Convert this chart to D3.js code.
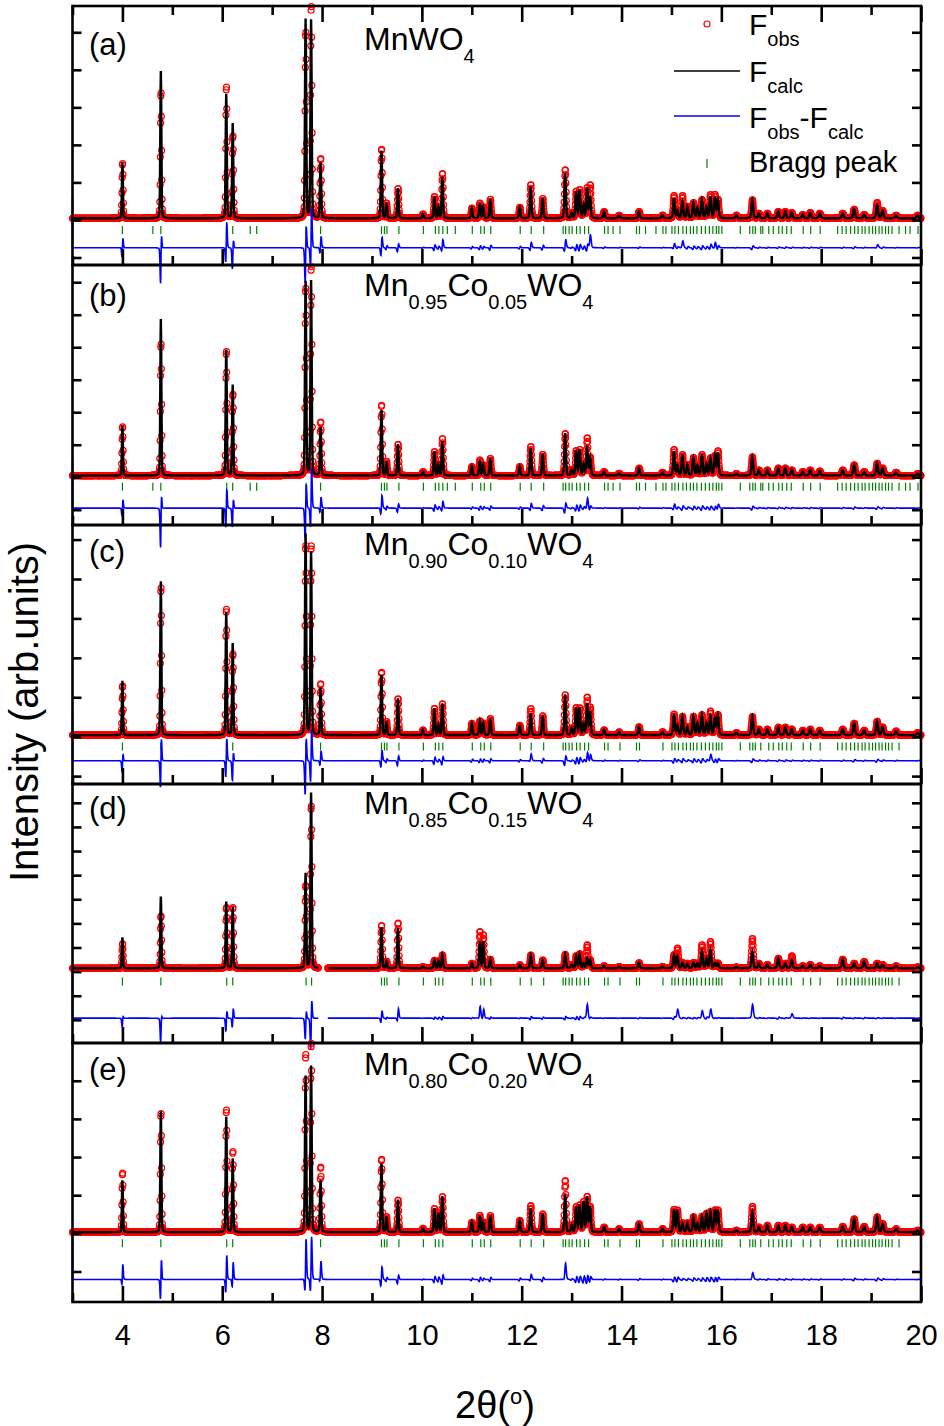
<!DOCTYPE html>
<html>
<head>
<meta charset="utf-8">
<script src="https://cdnjs.cloudflare.com/ajax/libs/d3/7.8.5/d3.min.js"></script>
<style>
  body { margin: 0; background: #fff; }
  svg { font-family: "Liberation Sans", Arial, sans-serif; }
</style>
</head>
<body>
<div class="chart"></div>
<script>
// reflection positions (2theta, deg) shared by all five refinements
var peakPos = [4.00, 4.77, 6.08, 6.21, 7.67, 7.78, 7.97, 9.19, 9.29, 9.52,
  10.02, 10.25, 10.33, 10.41, 11.00, 11.16, 11.23, 11.37, 11.96, 12.18,
  12.42, 12.87, 13.00, 13.09, 13.16, 13.24, 13.31, 13.37, 13.65, 13.95,
  14.35, 14.82, 15.05, 15.12, 15.22, 15.32, 15.44, 15.52, 15.61, 15.70,
  15.78, 15.87, 15.93, 16.30, 16.62, 16.75, 16.92, 17.14, 17.28, 17.41,
  17.63, 17.78, 17.97, 18.43, 18.66, 18.86, 19.12, 19.23, 19.50, 19.93];

// calculated peak heights above background, one per reflection
var calcA = [1.49, 3.92, 3.31, 2.53, 5.3, 5.28, 1.47, 1.8, 0.4, 0.8,
  0.11, 0.58, 0.3, 1.09, 0.27, 0.4, 0.3, 0.51, 0.29, 0.84,
  0.53, 1.2, 0.14, 0.71, 0.75, 0.35, 0.8, 0.56, 0.18, 0.08,
  0.18, 0.08, 0.53, 0.2, 0.44, 0.31, 0.41, 0.27, 0.49, 0.3,
  0.58, 0.51, 0.49, 0.08, 0.49, 0.13, 0.13, 0.18, 0.18, 0.15,
  0.1, 0.15, 0.13, 0.13, 0.24, 0.1, 0.36, 0.2, 0.08, 0.08];
var calcB = [1.53, 4.82, 3.87, 2.79, 5.97, 5.99, 1.49, 2.02, 0.43, 0.97,
  0.12, 0.74, 0.33, 1.05, 0.28, 0.48, 0.33, 0.53, 0.28, 0.84,
  0.66, 1.3, 0.17, 0.76, 0.79, 0.35, 0.9, 0.55, 0.12, 0.07,
  0.23, 0.1, 0.74, 0.3, 0.64, 0.33, 0.55, 0.3, 0.64, 0.35,
  0.53, 0.6, 0.69, 0.06, 0.58, 0.17, 0.17, 0.23, 0.23, 0.17,
  0.12, 0.17, 0.14, 0.17, 0.33, 0.12, 0.38, 0.23, 0.1, 0.06];
var calcC = [1.38, 3.9, 3.12, 2.33, 5.1, 4.64, 1.2, 1.53, 0.34, 0.93,
  0.13, 0.68, 0.25, 0.8, 0.3, 0.36, 0.3, 0.42, 0.25, 0.55,
  0.49, 1.03, 0.17, 0.69, 0.68, 0.27, 0.8, 0.59, 0.13, 0.08,
  0.21, 0.08, 0.53, 0.25, 0.47, 0.21, 0.47, 0.3, 0.51, 0.3,
  0.47, 0.42, 0.51, 0.06, 0.47, 0.15, 0.15, 0.2, 0.2, 0.15,
  0.12, 0.15, 0.12, 0.15, 0.3, 0.12, 0.35, 0.2, 0.1, 0.06];
var calcD = [1.28, 2.97, 2.76, 2.55, 3.93, 7.27, 0, 1.7, 0.28, 1.66,
  0.07, 0.33, 0.3, 0.55, 0.2, 1.1, 1.1, 0.37, 0.14, 0.55,
  0.34, 0.58, 0.14, 0.51, 0.59, 0.2, 0.41, 0.34, 0.1, 0.07,
  0.23, 0.07, 0.55, 0.48, 0.23, 0.2, 0.23, 0.2, 0.69, 0.4,
  0.76, 0.2, 0.2, 0.05, 0.69, 0.2, 0.15, 0.41, 0.2, 0.34,
  0.1, 0.15, 0.1, 0.37, 0.2, 0.28, 0.2, 0.15, 0.1, 0.05];
var calcE = [1.36, 3.17, 3.02, 1.93, 4.09, 4.35, 1.36, 1.8, 0.4, 0.85,
  0.1, 0.62, 0.5, 0.94, 0.26, 0.44, 0.26, 0.44, 0.31, 0.62,
  0.48, 0.99, 0.18, 0.66, 0.7, 0.79, 0.92, 0.66, 0.13, 0.09,
  0.22, 0.09, 0.59, 0.57, 0.24, 0.24, 0.4, 0.22, 0.41, 0.48,
  0.53, 0.57, 0.57, 0.05, 0.53, 0.13, 0.18, 0.18, 0.18, 0.13,
  0.13, 0.13, 0.13, 0.15, 0.35, 0.15, 0.4, 0.22, 0.09, 0.05];

// observed heights where they differ from the calculation: [2theta, height]
var obsA = [[4.77, 3.4], [6.08, 3.55], [6.21, 2.22], [7.67, 5.0], [7.78, 5.7], [7.97, 1.6],
  [9.19, 1.86], [10.41, 1.2], [12.18, 0.9], [12.87, 1.3], [13.37, 0.88], [15.05, 0.6],
  [15.22, 0.6], [15.78, 0.62], [15.87, 0.62], [19.12, 0.42]];
var obsB = [[4.77, 4.12], [6.21, 2.53], [7.67, 5.82], [7.78, 6.5], [7.97, 1.66], [9.19, 2.19],
  [10.41, 1.15], [12.18, 0.9], [13.31, 1.15], [15.05, 0.8], [15.93, 0.75]];
var obsC = [[4.0, 1.27], [4.77, 3.8], [6.08, 3.24], [6.21, 2.08], [7.67, 4.86], [7.78, 4.85],
  [7.97, 1.31], [9.19, 1.61], [12.18, 0.68], [13.31, 0.95], [13.37, 0.7], [15.78, 0.6]];
var obsD = [[4.0, 1.03], [4.77, 2.2], [6.08, 2.55], [7.67, 3.45], [7.78, 6.8], [9.19, 1.79],
  [9.52, 1.89], [11.16, 1.52], [11.23, 1.38], [13.31, 0.97], [15.12, 0.83], [15.61, 0.97],
  [15.78, 1.1], [16.62, 1.24], [17.41, 0.51]];
var obsE = [[4.0, 1.58], [6.08, 3.25], [6.21, 2.14], [7.67, 4.7], [7.78, 5.0], [7.97, 1.72],
  [9.19, 1.93], [12.18, 0.7], [12.87, 1.36], [16.62, 0.68]];

// Bragg reflection markers
var braggMain = [4.0, 4.77, 6.09, 6.21, 7.68, 7.79, 7.97, 9.19, 9.25, 9.30, 9.54, 10.03,
  10.27, 10.34, 10.42, 11.01, 11.18, 11.25, 11.38, 11.97, 12.19, 12.44, 12.83, 12.88,
  12.95, 13.01, 13.10, 13.17, 13.26, 13.34, 13.66, 13.73, 13.97, 14.30, 14.36, 14.83,
  15.01, 15.07, 15.14, 15.23, 15.30, 15.38, 15.44, 15.51, 15.60, 15.68, 15.76, 15.83,
  15.90, 15.95, 16.01, 16.38, 16.57, 16.63, 16.68, 16.79, 16.95, 17.04, 17.15, 17.22,
  17.31, 17.40, 17.64, 17.79, 17.98, 18.33, 18.42, 18.50, 18.59, 18.67, 18.74, 18.82,
  18.88, 18.96, 19.03, 19.09, 19.16, 19.22, 19.29, 19.35, 19.42, 19.56];
var braggExtra = [4.61, 6.56, 6.69, 10.51, 10.67, 13.83, 14.48, 14.69, 14.89, 16.83,
  19.69, 19.78, 19.94];

var panelLabels = ['(a)', '(b)', '(c)', '(d)', '(e)'];
var formulaA = [['MnWO', 0], ['4', 1]];
var formulaB = [['Mn', 0], ['0.95', 1], ['Co', 0], ['0.05', 1], ['WO', 0], ['4', 1]];
var formulaC = [['Mn', 0], ['0.90', 1], ['Co', 0], ['0.10', 1], ['WO', 0], ['4', 1]];
var formulaD = [['Mn', 0], ['0.85', 1], ['Co', 0], ['0.15', 1], ['WO', 0], ['4', 1]];
var formulaE = [['Mn', 0], ['0.80', 1], ['Co', 0], ['0.20', 1], ['WO', 0], ['4', 1]];

// y domains of each panel, background / marker / difference levels (same units)
var yDomains = [[-1.2, 5.7], [-1.47, 6.53], [-1.2, 5.37], [-2.96, 7.78], [-1.8, 4.99]];
var yTicks = [d3.range(-1, 6), d3.range(-1, 7), d3.range(-1, 6), d3.range(-2, 8), d3.range(-1, 5)];
var backLevel = [0.045, 0.05, 0.04, 0.14, 0.03];
var braggLevel = [-0.27, -0.29, -0.25, -0.41, -0.26];
var diffLevel = [-0.74, -0.95, -0.61, -1.93, -1.21];
var diffLead = [0.6, 0.58, 0.59, 0.0, 0.0];
var excluded = [null, null, null, [7.93, 8.11], null];

var xMajor = [4, 6, 8, 10, 12, 14, 16, 18, 20];
var xMinor = [3, 5, 7, 9, 11, 13, 15, 17, 19];

// layout
var W = 944, H = 1426;
var edges = [6, 265, 525, 784, 1043, 1302];
var labelDy = [49, 41, 37, 35, 37];
var formulaDy = [44, 31, 30, 30, 32];
var step = 0.005, shift = 0.003, eta = 0.22;

var svg = d3.select('.chart').append('svg').attr('width', W).attr('height', H);
var x = d3.scaleLinear().domain([3, 20]).range([72.5, 921]);

var profile = function(t, heights) {
  var s = 0;
  for (var i = 0; i < peakPos.length; i++) {
    var h = heights[i];
    if (!h) continue;
    var w = 0.019 + 0.0013 * peakPos[i];
    var d = (t - peakPos[i]) / w;
    if (Math.abs(d) > 40) continue;
    s += h * (eta / (1 + 4 * d * d) + (1 - eta) * Math.exp(-2.7726 * d * d));
  }
  return s;
};

var richText = function(g, parts, px, py, size, subSize, subDy) {
  var t = g.append('text').attr('x', px).attr('y', py).style('font-size', size + 'px');
  var down = false;
  parts.forEach(function(p) {
    var s = t.append('tspan').text(p[0]);
    if (p[1]) {
      s.style('font-size', subSize + 'px');
      if (!down) { s.attr('dy', subDy); down = true; }
    } else if (down) {
      s.attr('dy', -subDy); down = false;
    }
  });
  return t;
};

var panels = [
  {calc: calcA, obs: obsA, formula: formulaA, bragg: braggMain.concat(braggExtra)},
  {calc: calcB, obs: obsB, formula: formulaB, bragg: braggMain.concat(braggExtra)},
  {calc: calcC, obs: obsC, formula: formulaC, bragg: braggMain},
  {calc: calcD, obs: obsD, formula: formulaD, bragg: braggMain},
  {calc: calcE, obs: obsE, formula: formulaE, bragg: braggMain}
];

var grid = d3.range(3, 20 + step / 2, step);

panels.forEach(function(p, k) {
  var top = edges[k], bottom = edges[k + 1];
  var y = d3.scaleLinear().domain(yDomains[k]).range([bottom, top]);
  var g = svg.append('g').attr('class', 'panel');
  var ex = excluded[k];
  var inRange = function(t) { return !ex || t < ex[0] || t > ex[1]; };

  var obsH = p.calc.slice();
  p.obs.forEach(function(o) {
    var i = peakPos.findIndex(function(v) { return Math.abs(v - o[0]) < 0.001; });
    if (i >= 0) obsH[i] = o[1];
  });

  var rows = grid.map(function(t) {
    return {
      t: t,
      calc: backLevel[k] + profile(t, p.calc),
      obs: backLevel[k] + profile(t - shift, obsH)
    };
  });

  // observed points
  g.append('g').selectAll('circle')
    .data(rows.filter(function(r) { return inRange(r.t); }))
    .join('circle')
    .attr('cx', function(r) { return x(r.t); })
    .attr('cy', function(r) { return y(r.obs); })
    .attr('r', 3)
    .attr('fill', 'none')
    .attr('stroke', '#ff0000')
    .attr('stroke-width', 1.2);

  // calculated profile
  g.append('path')
    .datum(rows)
    .attr('fill', 'none')
    .attr('stroke', '#000')
    .attr('stroke-width', 2.4)
    .attr('d', d3.line().defined(function(r) { return inRange(r.t); })
      .x(function(r) { return x(r.t); })
      .y(function(r) { return y(r.calc); }));

  // Bragg markers
  g.append('g').selectAll('line')
    .data(p.bragg.filter(function(b) { return inRange(b) && (k < 2 || b < 19.6); }))
    .join('line')
    .attr('x1', function(b) { return x(b); })
    .attr('x2', function(b) { return x(b); })
    .attr('y1', y(braggLevel[k]) - 4)
    .attr('y2', y(braggLevel[k]) + 4)
    .attr('stroke', '#008000')
    .attr('stroke-width', 1.2);

  // difference curve
  var diffRows = [{t: 3, v: diffLead[k]}].concat(rows.map(function(r) {
    return {t: r.t, v: diffLevel[k] + r.obs - r.calc};
  }));
  g.append('path')
    .datum(diffRows)
    .attr('fill', 'none')
    .attr('stroke', '#0000ff')
    .attr('stroke-width', 1.6)
    .attr('d', d3.line().defined(function(r) { return inRange(r.t); })
      .x(function(r) { return x(r.t); })
      .y(function(r) { return y(r.v); }));

  // frame and ticks
  var tickStyle = function(sel) {
    sel.select('.domain').remove();
    sel.selectAll('line').attr('stroke', '#000').attr('stroke-width', 2.6);
  };
  g.append('g').attr('transform', 'translate(0,' + bottom + ')')
    .call(d3.axisBottom(x).tickValues(xMajor).tickSize(-16).tickFormat(''))
    .call(tickStyle);
  g.append('g').attr('transform', 'translate(0,' + bottom + ')')
    .call(d3.axisBottom(x).tickValues(xMinor).tickSize(-9).tickFormat(''))
    .call(tickStyle);
  if (k === 0) {
    g.append('g').attr('transform', 'translate(0,' + top + ')')
      .call(d3.axisTop(x).tickValues(xMajor).tickSize(-16).tickFormat(''))
      .call(tickStyle);
    g.append('g').attr('transform', 'translate(0,' + top + ')')
      .call(d3.axisTop(x).tickValues(xMinor).tickSize(-9).tickFormat(''))
      .call(tickStyle);
  }
  g.append('g').attr('transform', 'translate(' + x(3) + ',0)')
    .call(d3.axisLeft(y).tickValues(yTicks[k]).tickSize(-9).tickFormat(''))
    .call(tickStyle);
  g.append('g').attr('transform', 'translate(' + x(20) + ',0)')
    .call(d3.axisRight(y).tickValues(yTicks[k]).tickSize(-9).tickFormat(''))
    .call(tickStyle);
  g.append('rect')
    .attr('x', x(3)).attr('y', top)
    .attr('width', x(20) - x(3)).attr('height', bottom - top)
    .attr('fill', 'none').attr('stroke', '#000').attr('stroke-width', 2.6);

  // panel texts
  g.append('text').attr('x', 89).attr('y', top + labelDy[k])
    .style('font-size', '31px').text(panelLabels[k]);
  richText(g, p.formula, 364, top + formulaDy[k], 32, 20, 13);
});

// x tick labels
svg.append('g').attr('transform', 'translate(0,' + edges[5] + ')')
  .call(d3.axisBottom(x).tickValues(xMajor).tickSize(0).tickPadding(22).tickFormat(d3.format('d')))
  .call(function(a) {
    a.select('.domain').remove();
    a.selectAll('text').style('font-size', '29px').attr('fill', '#000')
      .style('font-family', '"Liberation Sans", Arial, sans-serif');
  });

// axis titles
var xt = svg.append('text').attr('x', 495).attr('y', 1418)
  .attr('text-anchor', 'middle').style('font-size', '38px');
xt.append('tspan').text('2\u03b8(');
xt.append('tspan').text('o').style('font-size', '22px').attr('dy', -14);
xt.append('tspan').text(')').attr('dy', 14);

svg.append('text')
  .attr('transform', 'translate(38,712) rotate(-90)')
  .attr('text-anchor', 'middle')
  .style('font-size', '40px')
  .text('Intensity (arb.units)');

// legend (panel a)
var lg = svg.append('g');
lg.append('circle').attr('cx', 707).attr('cy', 24).attr('r', 3)
  .attr('fill', 'none').attr('stroke', '#ff0000').attr('stroke-width', 1.2);
lg.append('line').attr('x1', 674).attr('x2', 740).attr('y1', 71).attr('y2', 71)
  .attr('stroke', '#000').attr('stroke-width', 1.5);
lg.append('line').attr('x1', 674).attr('x2', 740).attr('y1', 116).attr('y2', 116)
  .attr('stroke', '#0000ff').attr('stroke-width', 1.5);
lg.append('line').attr('x1', 707).attr('x2', 707).attr('y1', 159).attr('y2', 168)
  .attr('stroke', '#008000').attr('stroke-width', 1.2);
richText(lg, [['F', 0], ['obs', 1]], 749, 35, 30, 20, 10.5);
richText(lg, [['F', 0], ['calc', 1]], 749, 82, 30, 20, 10.5);
richText(lg, [['F', 0], ['obs', 1], ['-F', 0], ['calc', 1]], 749, 128, 30, 20, 10.5);
lg.append('text').attr('x', 749).attr('y', 172).style('font-size', '29px').text('Bragg peak');
</script>
</body>
</html>
